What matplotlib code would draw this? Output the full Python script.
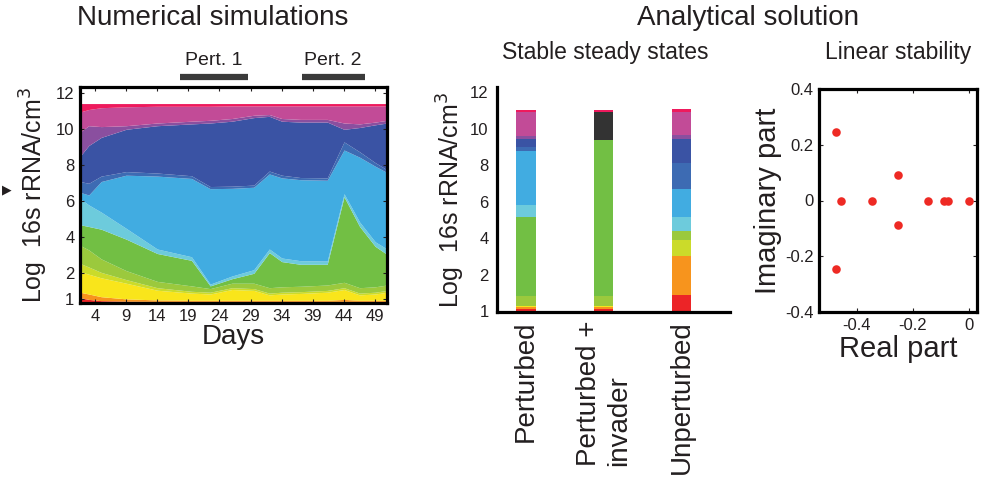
import matplotlib
matplotlib.use('Agg')
import matplotlib.pyplot as plt

plt.rcParams['font.family'] = ['Liberation Sans', 'DejaVu Sans']
plt.rcParams['text.color'] = '#231f20'
plt.rcParams['axes.labelcolor'] = '#231f20'
plt.rcParams['xtick.color'] = '#231f20'
plt.rcParams['ytick.color'] = '#231f20'

# colours of the species, bottom to top
RED = '#ec2427'
ORANGE = '#f7941d'
YELLOW = '#f9e51b'
YGREEN = '#cbdb2a'
LGREEN = '#9bc93d'
GREEN = '#72bf44'
CYAN = '#6dcbdc'
SKY = '#41ace1'
MIDBLUE = '#3d6bb3'
DARKBLUE = '#3a53a4'
PURPLE = '#8a4f9f'
MAGENTA = '#c24b97'
PINK = '#ee1a5d'
GREY = '#333333'

# numerical simulation: cumulative top of each layer at sampled days
days = [1.6, 3, 5, 9, 14, 19.5, 22.5, 26, 29.5, 32, 34, 37, 41.3, 44, 46.5, 49, 50.9]
red_top = [0.65, 0.55, 0.48, 0.45, 0.44, 0.44, 0.44, 0.44, 0.44, 0.44, 0.44, 0.44, 0.44, 0.44, 0.44, 0.44, 0.44]
orange_top = [0.95, 0.85, 0.7, 0.58, 0.52, 0.5, 0.5, 0.5, 0.5, 0.5, 0.5, 0.5, 0.5, 0.55, 0.5, 0.5, 0.5]
yellow_top = [2.1, 1.95, 1.75, 1.45, 1.06, 0.9, 0.85, 1.1, 1.05, 0.8, 0.85, 0.88, 0.95, 1.1, 0.8, 0.85, 0.95]
ygreen_top = [2.55, 2.35, 2.05, 1.65, 1.2, 1.0, 0.95, 1.2, 1.15, 0.9, 0.95, 0.98, 1.05, 1.2, 0.9, 0.95, 1.05]
lgreen_top = [3.55, 3.3, 2.8, 2.15, 1.55, 1.3, 1.15, 1.45, 1.45, 1.2, 1.25, 1.28, 1.35, 1.5, 1.2, 1.25, 1.35]
green_top = [4.7, 4.6, 4.45, 3.9, 3.1, 2.72, 1.3, 1.7, 2.0, 3.15, 2.65, 2.5, 2.5, 6.25, 4.6, 3.5, 3.05]
cyan_top = [6.15, 5.8, 5.4, 4.5, 3.35, 2.92, 1.4, 1.85, 2.2, 3.35, 2.85, 2.7, 2.68, 6.42, 4.85, 3.75, 3.35]
sky_top = [6.5, 6.35, 7.1, 7.45, 7.4, 7.27, 6.7, 6.72, 6.78, 7.52, 7.3, 7.2, 7.17, 8.85, 8.45, 7.95, 7.6]
mid_top = [7.1, 7.0, 7.4, 7.65, 7.57, 7.42, 6.82, 6.84, 6.9, 7.68, 7.45, 7.32, 7.3, 9.3, 8.75, 8.15, 7.75]
dark_top = [8.5, 9.1, 9.55, 10.0, 10.2, 10.3, 10.35, 10.45, 10.65, 10.72, 10.45, 10.4, 10.4, 10.0, 10.1, 10.25, 10.35]
purple_top = [9.85, 10.2, 10.15, 10.2, 10.35, 10.45, 10.5, 10.6, 10.78, 10.82, 10.6, 10.55, 10.55, 10.35, 10.3, 10.4, 10.5]
magenta_top = [10.96, 11.1, 11.2, 11.25, 11.28, 11.28, 11.28, 11.3, 11.3, 11.3, 11.3, 11.3, 11.3, 11.3, 11.3, 11.3, 11.3]
pink_top = [11.43, 11.43, 11.43, 11.43, 11.43, 11.43, 11.43, 11.43, 11.43, 11.43, 11.43, 11.43, 11.43, 11.43, 11.43, 11.43, 11.43]

day_ticks = [4, 9, 14, 19, 24, 29, 34, 39, 44, 49]
log_ticks = ['1', '2', '4', '6', '8', '10', '12']
pert1 = [17.7, 28.6]
pert2 = [37.2, 47.3]

# analytical steady states: cumulative tops per bar
bar_names = ['Perturbed', 'Perturbed +\ninvader', 'Unperturbed']
perturbed_tops = [0.1, 0.2, 0.3, 0.82, 5.18, 5.82, 8.8, 9.03, 9.43, 9.6, 10.95, 11.04]
perturbed_cols = [RED, ORANGE, YELLOW, LGREEN, GREEN, CYAN, SKY, MIDBLUE, DARKBLUE, PURPLE, MAGENTA, PINK]
invader_tops = [0.1, 0.2, 0.3, 0.82, 9.4, 10.92, 11.04]
invader_cols = [RED, ORANGE, YELLOW, LGREEN, GREEN, GREY, PINK]
unperturbed_tops = [0.86, 3.02, 3.88, 4.4, 5.16, 6.68, 8.15, 9.43, 9.65, 10.93, 11.07]
unperturbed_cols = [RED, ORANGE, YGREEN, LGREEN, CYAN, SKY, MIDBLUE, DARKBLUE, PURPLE, MAGENTA, PINK]

# eigenvalues
eig_real = [-0.473, -0.473, -0.455, -0.347, -0.255, -0.255, -0.147, -0.09, -0.074, 0.0]
eig_imag = [0.247, -0.247, 0.0, 0.0, 0.09, -0.089, 0.0, 0.0, 0.0, 0.0]

W, H = 985, 479
fig = plt.figure(figsize=(W / 100, H / 100), dpi=100)


def box(x0, y0, x1, y1):
    return [x0 / W, 1 - y1 / H, (x1 - x0) / W, (y1 - y0) / H]


# ---- numerical simulations ----
ax1 = fig.add_axes(box(80, 87, 387, 303))
layers = [(red_top, RED), (orange_top, ORANGE), (yellow_top, YELLOW), (ygreen_top, YGREEN),
          (lgreen_top, LGREEN), (green_top, GREEN), (cyan_top, CYAN), (sky_top, SKY),
          (mid_top, MIDBLUE), (dark_top, DARKBLUE), (purple_top, PURPLE),
          (magenta_top, MAGENTA), (pink_top, PINK)]
lower = [0] * len(days)
for top, col in layers:
    ax1.fill_between(days, lower, top, color=col, lw=0)
    lower = top
ax1.set_xlim(1.6, 50.9)
ax1.set_ylim(0.35, 12.35)
ax1.set_xticks(day_ticks)
ax1.set_yticks([0.6, 2, 4, 6, 8, 10, 12])
ax1.set_yticklabels(log_ticks)
ax1.tick_params(direction='in', top=True, right=True, length=3, labelsize=12, pad=4)
for s in ax1.spines.values():
    s.set_linewidth(2.3)
ax1.set_xlabel('Days', fontsize=20, labelpad=0)
ax1.set_ylabel('Log  16s rRNA/cm$^3$', fontsize=18, labelpad=4)
for (a, b), name in [(pert1, 'Pert. 1'), (pert2, 'Pert. 2')]:
    ax1.plot([a, b], [12.9, 12.9], color='#3a3a3a', lw=4.5, solid_capstyle='butt', clip_on=False)
    ax1.text((a + b) / 2, 13.35, name, ha='center', va='bottom', fontsize=14)

# ---- stable steady states ----
ax2 = fig.add_axes(box(497, 87, 730, 312))
for i, (tops, cols) in enumerate([(perturbed_tops, perturbed_cols),
                                  (invader_tops, invader_cols),
                                  (unperturbed_tops, unperturbed_cols)]):
    base = 0
    for t, c in zip(tops, cols):
        ax2.bar(i, t - base, bottom=base, width=0.25, color=c, lw=0)
        base = t
ax2.set_xlim(-0.37, 2.62)
ax2.set_ylim(-0.05, 12.3)
ax2.set_yticks([0, 2, 4, 6, 8, 10, 12])
ax2.set_yticklabels(log_ticks)
ax2.set_xticks([0, 1, 2])
ax2.set_xticklabels(bar_names, rotation=90, fontsize=20, va='top', ha='center',
                    multialignment='left')
ax2.tick_params(axis='x', length=0, pad=6)
ax2.tick_params(axis='y', direction='in', length=0, labelsize=12, pad=6)
for k in ['top', 'right']:
    ax2.spines[k].set_visible(False)
for k in ['left', 'bottom']:
    ax2.spines[k].set_linewidth(2.3)
ax2.set_ylabel('Log  16s rRNA/cm$^3$', fontsize=18, labelpad=2)

# ---- linear stability ----
ax3 = fig.add_axes(box(819, 89, 977, 312))
ax3.scatter(eig_real, eig_imag, s=38, color='#ee2a24', lw=0, zorder=3)
ax3.set_xlim(-0.535, 0.028)
ax3.set_ylim(-0.39, 0.4)
ax3.set_xticks([-0.4, -0.2, 0])
ax3.set_xticklabels(['-0.4', '-0.2', '0'])
ax3.set_yticks([-0.4, -0.2, 0, 0.2, 0.4])
ax3.set_yticklabels(['-0.4', '-0.2', '0', '0.2', '0.4'])
ax3.tick_params(direction='in', top=True, right=True, length=3, labelsize=12, pad=4)
for s in ax3.spines.values():
    s.set_linewidth(2.3)
ax3.set_xlabel('Real part', fontsize=21, labelpad=2)
ax3.set_ylabel('Imaginary part', fontsize=21, labelpad=2)

# ---- titles ----
fig.text(213 / W, 1 - 18 / H, 'Numerical simulations', ha='center', va='center', fontsize=20)
fig.text(748 / W, 1 - 18 / H, 'Analytical solution', ha='center', va='center', fontsize=20)
fig.text(605 / W, 1 - 52 / H, 'Stable steady states', ha='center', va='center', fontsize=16.5)
fig.text(898 / W, 1 - 52 / H, 'Linear stability', ha='center', va='center', fontsize=16.5)
fig.text(0.002, 1 - 190 / H, '\u25b6', ha='left', va='center', fontsize=9,
         family=['DejaVu Sans'])

fig.savefig('out.png', dpi=100)
